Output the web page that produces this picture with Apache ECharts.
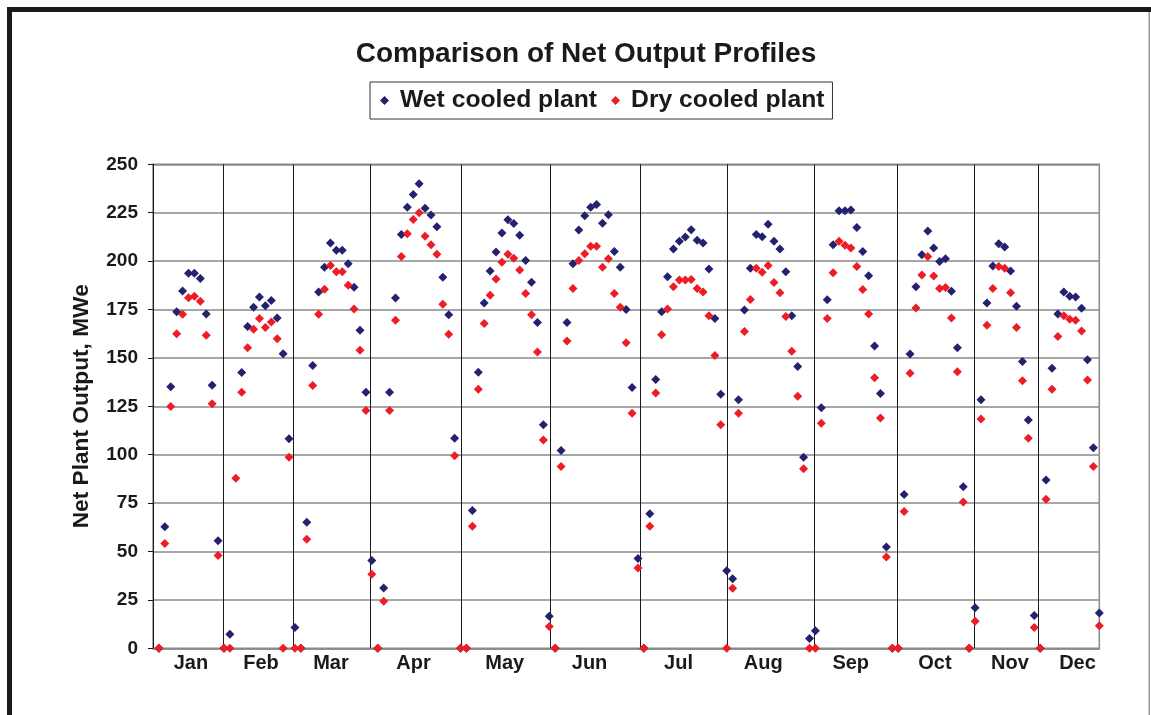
<!DOCTYPE html>
<html>
<head>
<meta charset="utf-8">
<script src="https://cdn.jsdelivr.net/npm/echarts@6/dist/echarts.min.js"></script>
<style>
html,body{margin:0;padding:0;background:#fff;}
#chart{width:1151px;height:715px;}
</style>
</head>
<body>
<div id="chart"></div>
<script>
// Hourly profile points in sequence (one x step per hour point, months run one after another)
const wetCooled = [
  0, 62.8, 135.1, 173.9, 184.6, 193.7, 193.7, 191.0, 172.7, 135.9, 55.5, 0,
  7.3, null, 142.4, 166.2, 176.2, 181.4, 177.0, 179.7, 170.6, 152.2, 108.3,
  10.8, 0, 65.1, 146.1, 184.0, 196.8, 209.4, 205.6, 205.6, 198.6, 186.5, 164.3, 132.3, 45.3,
  0, 31.1, 132.3, 180.9, 213.8, 227.8, 234.4, 240.0, 227.3, 223.8, 217.8, 191.6, 172.3, 108.5, 0,
  0, 71.2, 142.6, 178.3, 194.9, 204.7, 214.5, 221.3, 219.4, 213.4, 200.3, 189.1, 168.3, 115.5, 16.6,
  0, 102.2, 168.3, 198.6, 216.1, 223.4, 227.8, 229.2, 219.6, 223.9, 205.0, 196.8, 175.0, 134.7, 46.4,
  0, 69.5, 138.9, 173.9, 191.9, 206.3, 210.3, 212.4, 216.2, 210.8, 209.4, 195.9, 170.4, 131.2, 40.1,
  35.9, 128.4, 174.8, 196.3, 213.8, 212.6, 219.0, 210.3, 206.3, 194.5, 171.8, 145.6, 98.7, 5.1,
  9.1, 124.2, 180.0, 208.5, 226.0, 226.0, 226.4, 217.3, 205.0, 192.4, 156.1, 131.6, 52.3, 0,
  0, 79.4, 152.0, 186.7, 203.3, 215.5, 206.8, 199.8, 201.2, 184.4, 155.2, 83.5, 0,
  21.0, 128.4, 178.4, 197.5, 208.9, 207.3, 194.9, 176.7, 148.2, 117.9, 17.0, 0,
  86.9, 144.7, 172.7, 184.0, 181.9, 181.4, 175.6, 149.0, 103.6, 18.2
];
const dryCooled = [
  0, 54.1, 124.9, 162.5, 172.5, 181.1, 181.9, 179.3, 161.7, 126.3, 47.9, 0,
  0, 87.8, 132.3, 155.2, 164.8, 170.4, 165.7, 168.6, 159.9, 0, 98.7,
  0, 0, 56.3, 135.8, 172.5, 185.4, 197.7, 194.5, 194.5, 187.5, 175.3, 154.0, 122.8, 38.3,
  0, 24.3, 122.8, 169.5, 202.4, 214.1, 221.5, 225.0, 212.9, 208.5, 203.5, 177.7, 162.2, 99.5, 0,
  0, 63.0, 133.8, 167.8, 182.3, 190.7, 199.4, 203.6, 201.5, 195.4, 183.2, 172.3, 153.1, 107.6, 11.2,
  0, 93.9, 158.7, 185.8, 200.3, 203.8, 207.7, 207.7, 196.8, 201.2, 183.2, 176.2, 157.8, 121.4, 41.5,
  0, 63.0, 131.9, 162.0, 175.3, 186.7, 190.2, 190.2, 190.5, 185.8, 184.0, 171.8, 151.2, 115.5, 0,
  31.0, 121.4, 163.6, 180.2, 196.3, 194.2, 197.7, 188.9, 183.7, 171.4, 153.4, 130.2, 92.7, 0,
  0, 116.2, 170.4, 194.0, 210.3, 208.2, 206.8, 197.2, 185.3, 172.7, 139.8, 119.0, 47.1, 0,
  0, 70.7, 142.1, 175.8, 192.8, 202.4, 192.3, 185.8, 186.3, 170.6, 142.9, 75.6, 0,
  14.0, 118.4, 166.9, 185.8, 197.2, 196.3, 183.7, 165.7, 138.2, 108.5, 10.8, 0,
  77.0, 133.8, 161.0, 171.8, 170.0, 169.5, 163.9, 138.6, 93.9, 11.7
];
// Month names, their label positions and the month separator positions on the x scale
const months = ['Jan','Feb','Mar','Apr','May','Jun','Jul','Aug','Sep','Oct','Nov','Dec'];
const monthLabelAt = [5.41, 17.25, 29.09, 43.06, 58.48, 72.81, 87.86, 102.17, 116.97, 131.21, 143.9, 155.31];
const monthSeparators = [10.84, 22.68, 35.65, 51.04, 66.18, 81.32, 96.15, 110.75, 124.78, 137.86, 148.6];
const yTicks = [0, 25, 50, 75, 100, 125, 150, 175, 200, 225, 250];

const toPoints = arr => arr.map((v, i) => [i, v]).filter(p => p[1] !== null);

const chart = echarts.init(document.getElementById('chart'), null, {renderer: 'canvas'});
const FONT = 'Liberation Sans, Arial, sans-serif';

chart.setOption({
  animation: false,
  backgroundColor: '#ffffff',
  title: {
    text: 'Comparison of Net Output Profiles',
    left: 586,
    top: 40,
    padding: 0,
    textAlign: 'center',
    textStyle: {fontFamily: FONT, fontWeight: 'bold', fontSize: 28, color: '#1a1a1a'}
  },
  legend: {
    left: 370,
    top: 82,
    padding: [6, 8, 6, 10],
    borderColor: '#333',
    borderWidth: 1,
    itemWidth: 9,
    itemHeight: 9,
    itemGap: 14,
    icon: 'diamond',
    textStyle: {fontFamily: FONT, fontWeight: 'bold', fontSize: 24.7, color: '#1a1a1a', padding: [0, 0, 0, 6]},
    data: ['Wet cooled plant', 'Dry cooled plant']
  },
  grid: {
    left: 153, top: 164.3, width: 946.3, height: 484,
    show: true, borderColor: '#8a8a8a', borderWidth: 1.5, backgroundColor: 'transparent'
  },
  xAxis: {
    type: 'value',
    min: -1,
    max: 159,
    axisLine: {show: true, onZero: false, lineStyle: {color: '#8a8a8a', width: 1.5}},
    axisTick: {show: false, customValues: monthSeparators},
    splitLine: {show: true, lineStyle: {color: '#1a1a1a', width: 1}},
    axisLabel: {
      customValues: monthLabelAt,
      margin: 5,
      fontFamily: FONT, fontWeight: 'bold', fontSize: 20, color: '#1a1a1a',
      formatter: function (v) {
        let best = 0;
        for (let i = 1; i < monthLabelAt.length; i++) {
          if (Math.abs(monthLabelAt[i] - v) < Math.abs(monthLabelAt[best] - v)) best = i;
        }
        return months[best];
      }
    }
  },
  yAxis: {
    type: 'value',
    min: yTicks[0],
    max: yTicks[yTicks.length - 1],
    interval: 25,
    name: 'Net Plant Output, MWe',
    nameLocation: 'middle',
    nameGap: 60,
    nameTextStyle: {fontFamily: FONT, fontWeight: 'bold', fontSize: 22.7, color: '#1a1a1a'},
    axisLine: {show: true, onZero: false, lineStyle: {color: '#1a1a1a', width: 1}},
    axisTick: {show: true, length: 5, lineStyle: {color: '#1a1a1a', width: 1}},
    splitLine: {show: true, lineStyle: {color: '#8a8a8a', width: 1.5}},
    axisLabel: {margin: 15, fontFamily: FONT, fontWeight: 'bold', fontSize: 19, color: '#1a1a1a'}
  },
  series: [
    {
      name: 'Wet cooled plant', type: 'scatter', symbol: 'diamond', symbolSize: 9,
      itemStyle: {color: '#22226f', opacity: 1},
      data: toPoints(wetCooled)
    },
    {
      name: 'Dry cooled plant', type: 'scatter', symbol: 'diamond', symbolSize: 9,
      itemStyle: {color: '#ee1c24', opacity: 1},
      data: toPoints(dryCooled)
    }
  ],
  graphic: [
    {type: 'rect', shape: {x: 7, y: 7, width: 5, height: 708}, style: {fill: '#1a1a1a'}, silent: true},
    {type: 'rect', shape: {x: 7, y: 7, width: 1144, height: 5}, style: {fill: '#1a1a1a'}, silent: true},
    {type: 'rect', shape: {x: 1148.5, y: 12, width: 1.5, height: 703}, style: {fill: '#9a9a9a'}, silent: true}
  ]
});
</script>
</body>
</html>
